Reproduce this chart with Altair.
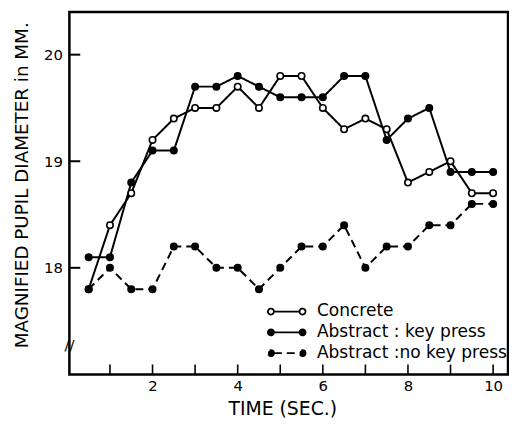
import altair as alt
import pandas as pd

time = [0.5, 1.0, 1.5, 2.0, 2.5, 3.0, 3.5, 4.0, 4.5, 5.0,
        5.5, 6.0, 6.5, 7.0, 7.5, 8.0, 8.5, 9.0, 9.5, 10.0]
concrete = [17.8, 18.4, 18.7, 19.2, 19.4, 19.5, 19.5, 19.7, 19.5, 19.8,
            19.8, 19.5, 19.3, 19.4, 19.3, 18.8, 18.9, 19.0, 18.7, 18.7]
key_press = [18.1, 18.1, 18.8, 19.1, 19.1, 19.7, 19.7, 19.8, 19.7, 19.6,
             19.6, 19.6, 19.8, 19.8, 19.2, 19.4, 19.5, 18.9, 18.9, 18.9]
no_key_press = [17.8, 18.0, 17.8, 17.8, 18.2, 18.2, 18.0, 18.0, 17.8, 18.0,
                18.2, 18.2, 18.4, 18.0, 18.2, 18.2, 18.4, 18.4, 18.6, 18.6]
series_names = ["Concrete", "Abstract : key press", "Abstract :no key press"]
x_ticks = [1, 2, 3, 4, 5, 6, 7, 8, 9, 10]
x_labels = [2, 4, 6, 8, 10]
y_ticks = [18, 19, 20]

XMIN, XMAX = 0.047, 10.35
YMIN, YMAX = 17.0, 20.4

rows = []
for name, vals in zip(series_names, [concrete, key_press, no_key_press]):
    for t, v in zip(time, vals):
        rows.append({"time": t, "value": v, "series": name})
df = pd.DataFrame(rows)

FONT = "DejaVu Sans"
xs = alt.Scale(domain=[XMIN, XMAX], nice=False, zero=False)
ys = alt.Scale(domain=[YMIN, YMAX], nice=False, zero=False)

xenc = alt.X("time:Q", scale=xs, axis=alt.Axis(
    values=x_labels, format="d", ticks=False, domain=False, grid=False,
    labelFontSize=15, labelPadding=4, title="TIME (SEC.)", titleFontSize=19,
    titleFontWeight="normal", titleX=215, titleY=34, titleBaseline="middle",
    titleAlign="center"))
yenc = alt.Y("value:Q", scale=ys, axis=alt.Axis(
    values=y_ticks, format="d", ticks=False, domain=False, grid=False,
    labelFontSize=15, labelPadding=7, title="MAGNIFIED PUPIL DIAMETER in MM.",
    titleFontSize=18.5, titleFontWeight="normal", titleX=-48, titleY=174.5,
    titleBaseline="middle", titleAlign="center", titleAngle=-90))

# legend symbol: line with a circle at each end, path spans x in [-2, 2]
sym_path = ("M-1.36,0 L1.36,0 "
            "M-1.36,0 A0.32,0.32 0 1,1 -2,0 A0.32,0.32 0 1,1 -1.36,0 "
            "M2,0 A0.32,0.32 0 1,1 1.36,0 A0.32,0.32 0 1,1 2,0")

legend = alt.Legend(title=None, orient="none", legendX=209, legendY=292,
                    symbolType=sym_path, symbolSize=361, symbolStrokeColor="black",
                    symbolStrokeWidth=1.8, labelFontSize=17.2, labelOffset=20,
                    labelLimit=0, rowPadding=2, padding=0)

lines = alt.Chart(df).mark_line(color="black", strokeWidth=2).encode(
    x=xenc, y=yenc,
    strokeDash=alt.StrokeDash("series:N", sort=series_names,
                              scale=alt.Scale(domain=series_names,
                                              range=[[1, 0], [1, 0], [8, 5]]),
                              legend=legend),
)
points = alt.Chart(df).mark_point(size=42, stroke="black", strokeWidth=1.6,
                                  opacity=1, filled=False).encode(
    x="time:Q", y="value:Q",
    fill=alt.Fill("series:N", sort=series_names,
                  scale=alt.Scale(domain=series_names,
                                  range=["white", "black", "black"]),
                  legend=legend),
)

xt = pd.DataFrame({"t": x_ticks, "y0": [YMIN] * len(x_ticks),
                   "y1": [YMIN + 0.093] * len(x_ticks)})
xtick_layer = alt.Chart(xt).mark_rule(color="black", strokeWidth=1.6).encode(
    x="t:Q", y="y0:Q", y2="y1:Q")
yt = pd.DataFrame({"v": y_ticks, "x0": [XMIN] * len(y_ticks),
                   "x1": [XMIN + 0.256] * len(y_ticks)})
ytick_layer = alt.Chart(yt).mark_rule(color="black", strokeWidth=2).encode(
    y="v:Q", x="x0:Q", x2="x1:Q")
brk = pd.DataFrame({"x": [XMIN], "y": [17.28], "t": ["//"]})
break_layer = alt.Chart(brk).mark_text(fontSize=15, color="black").encode(
    x="x:Q", y="y:Q", text="t:N")

chart = alt.layer(xtick_layer, ytick_layer, break_layer, lines, points).properties(
    width=443, height=366,
    autosize=alt.AutoSizeParams(type="none"),
    padding={"left": 62, "top": 2, "right": 1, "bottom": 46},
).configure(
    font=FONT,
    view=alt.ViewConfig(stroke="black", strokeWidth=2.5),
    axis=alt.AxisConfig(labelColor="black", titleColor="black",
                        labelFont=FONT, titleFont=FONT),
    legend=alt.LegendConfig(labelFont=FONT, labelColor="black"),
)

chart.save("out.html", embed_options={"renderer": "svg", "actions": False})
